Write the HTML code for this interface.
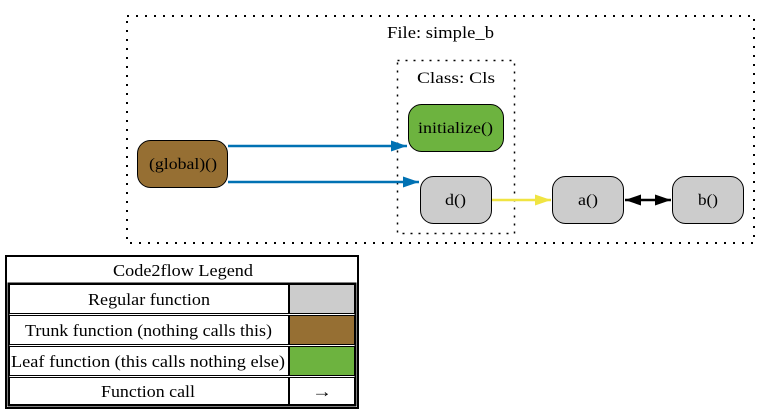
<!DOCTYPE html>
<html><head><meta charset="utf-8"><style>
html,body{margin:0;padding:0;background:#fff;}
svg{display:block;}
text{font-family:"Liberation Serif","Times New Roman",serif;}
</style></head><body>
<svg width="771" height="414" viewBox="0 0 771 414" xmlns="http://www.w3.org/2000/svg" font-family="Liberation Serif, serif">
<defs>
<marker id="ab" markerWidth="16" markerHeight="12" refX="16" refY="6" orient="auto" markerUnits="userSpaceOnUse"><path d="M0,0.5 L16,6 L0,11.5 z" fill="#0071b3"/></marker>
<marker id="ay" markerWidth="16" markerHeight="12" refX="16" refY="6" orient="auto" markerUnits="userSpaceOnUse"><path d="M0,0.5 L16,6 L0,11.5 z" fill="#f0e442"/></marker>
<marker id="ak" markerWidth="16" markerHeight="12" refX="16" refY="6" orient="auto-start-reverse" markerUnits="userSpaceOnUse"><path d="M0,0.5 L16,6 L0,11.5 z" fill="#000"/></marker>
</defs>
<rect x="127" y="16" width="627" height="227" fill="none" stroke="#000" stroke-width="2" stroke-dasharray="2,7"/>
<text x="387" y="38" font-size="17" textLength="107" lengthAdjust="spacingAndGlyphs">File: simple_b</text>
<rect x="397.5" y="60.5" width="117" height="173" fill="none" stroke="#000" stroke-width="1.5" stroke-dasharray="2,6"/>
<text x="417" y="83" font-size="16" textLength="78" lengthAdjust="spacingAndGlyphs">Class: Cls</text>

<line x1="228" y1="146" x2="407" y2="146" stroke="#0071b3" stroke-width="2.5" marker-end="url(#ab)"/>
<line x1="228" y1="182" x2="419" y2="182" stroke="#0071b3" stroke-width="2.5" marker-end="url(#ab)"/>
<line x1="492" y1="200" x2="551" y2="200" stroke="#f0e442" stroke-width="2.5" marker-end="url(#ay)"/>
<line x1="625" y1="200" x2="671" y2="200" stroke="#000" stroke-width="2.5" marker-start="url(#ak)" marker-end="url(#ak)"/>

<rect x="137.5" y="140.5" width="90" height="47" rx="13" fill="#966f33" stroke="#000"/>
<text x="149" y="169" font-size="16" textLength="68" lengthAdjust="spacingAndGlyphs">(global)()</text>
<rect x="408.5" y="104.5" width="95" height="47" rx="13" fill="#6db33f" stroke="#000"/>
<text x="418" y="133" font-size="16" textLength="75" lengthAdjust="spacingAndGlyphs">initialize()</text>
<rect x="420.5" y="176.5" width="71" height="47" rx="13" fill="#cccccc" stroke="#000"/>
<text x="445" y="205" font-size="16" textLength="21" lengthAdjust="spacingAndGlyphs">d()</text>
<rect x="552.5" y="176.5" width="71" height="47" rx="13" fill="#cccccc" stroke="#000"/>
<text x="578" y="205" font-size="16" textLength="20" lengthAdjust="spacingAndGlyphs">a()</text>
<rect x="672.5" y="176.5" width="71" height="47" rx="13" fill="#cccccc" stroke="#000"/>
<text x="698" y="205" font-size="16" textLength="20" lengthAdjust="spacingAndGlyphs">b()</text>

<rect x="6" y="256" width="352" height="152" fill="#fff" stroke="#000" stroke-width="2"/>
<text x="113" y="276" font-size="17" textLength="140" lengthAdjust="spacingAndGlyphs">Code2flow Legend</text>
<rect x="8.5" y="283.5" width="347" height="122" fill="none" stroke="#000" stroke-width="2"/>
<rect x="9.5" y="284.5" width="279" height="29" fill="none" stroke="#000"/>
<rect x="289.5" y="284.5" width="65" height="29" fill="#cccccc" stroke="#000"/>
<rect x="9.5" y="315.5" width="279" height="29" fill="none" stroke="#000"/>
<rect x="289.5" y="315.5" width="65" height="29" fill="#966f33" stroke="#000"/>
<rect x="9.5" y="346.5" width="279" height="29" fill="none" stroke="#000"/>
<rect x="289.5" y="346.5" width="65" height="29" fill="#6db33f" stroke="#000"/>
<rect x="9.5" y="377.5" width="279" height="27" fill="none" stroke="#000"/>
<rect x="289.5" y="377.5" width="65" height="27" fill="none" stroke="#000"/>
<text x="88" y="305" font-size="17" textLength="122" lengthAdjust="spacingAndGlyphs">Regular function</text>
<text x="25" y="336" font-size="17" textLength="247" lengthAdjust="spacingAndGlyphs">Trunk function (nothing calls this)</text>
<text x="11" y="367" font-size="17" textLength="274" lengthAdjust="spacingAndGlyphs">Leaf function (this calls nothing else)</text>
<text x="101" y="397" font-size="17" textLength="94" lengthAdjust="spacingAndGlyphs">Function call</text>
<text x="312" y="397" font-size="17" textLength="20" lengthAdjust="spacingAndGlyphs">→</text>
</svg>
</body></html>
